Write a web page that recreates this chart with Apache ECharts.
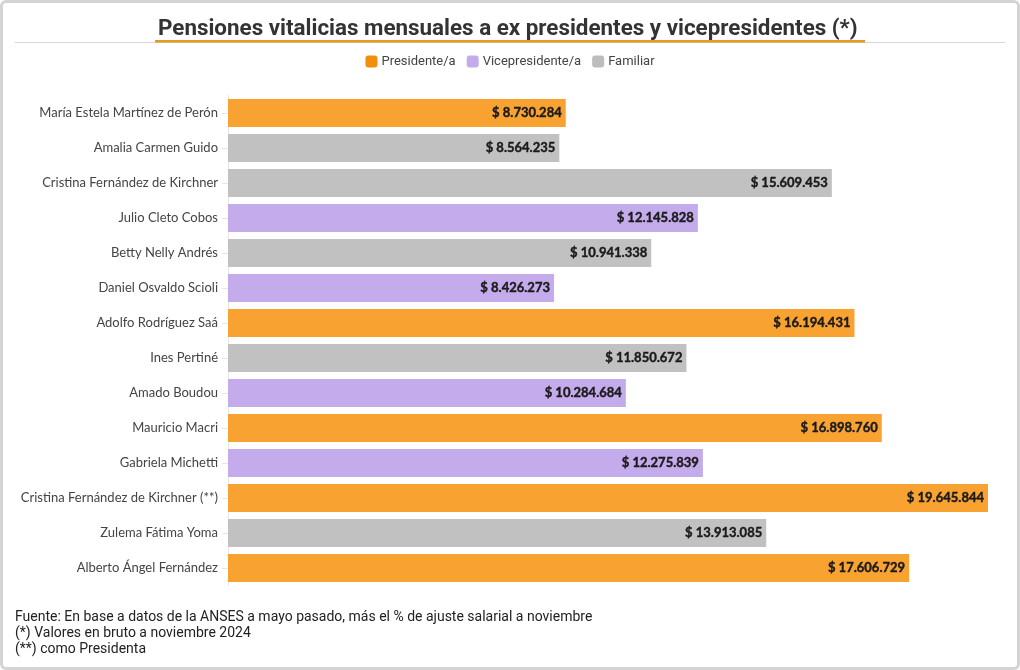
<!DOCTYPE html>
<html><head><meta charset="utf-8">
<script src="https://cdn.jsdelivr.net/npm/echarts@6/dist/echarts.min.js"></script>
<style>
html,body{margin:0;padding:0;background:#fff;}
#c{position:absolute;left:0;top:0;width:1020px;height:670px;}
#b{position:absolute;left:0;top:0;width:1020px;height:670px;box-sizing:border-box;border:3px solid #d4d4d4;border-radius:6px;pointer-events:none;}
</style></head>
<body><div id="c"></div><div id="b"></div>
<script>
const categories = ["María Estela Martínez de Perón","Amalia Carmen Guido","Cristina Fernández de Kirchner","Julio Cleto Cobos","Betty Nelly Andrés","Daniel Osvaldo Scioli","Adolfo Rodríguez Saá","Ines Pertiné","Amado Boudou","Mauricio Macri","Gabriela Michetti","Cristina Fernández de Kirchner (**)","Zulema Fátima Yoma","Alberto Ángel Fernández"];
const roles = ["Presidente/a","Familiar","Familiar","Vicepresidente/a","Familiar","Vicepresidente/a","Presidente/a","Familiar","Vicepresidente/a","Presidente/a","Vicepresidente/a","Presidente/a","Familiar","Presidente/a"];
const values = [8730284,8564235,15609453,12145828,10941338,8426273,16194431,11850672,10284684,16898760,12275839,19645844,13913085,17606729];
const seriesNames = ["Presidente/a","Vicepresidente/a","Familiar"];
const seriesColors = ["#F8A232","#C4ABEB","#C1C1C1"];
const legendColors = ["#F28E0B","#C4ABEB","#BDBDBD"];
const footnotes = ["Fuente: En base a datos de la ANSES a mayo pasado, más el % de ajuste salarial a noviembre","(*) Valores en bruto a noviembre 2024","(**) como Presidenta"];

function fmt(v){return "$ " + String(v).replace(/\B(?=(\d{3})+(?!\d))/g, ".");}

const chart = echarts.init(document.getElementById('c'));
const series = seriesNames.map((n,i)=>({
  name:n, type:'bar', stack:'s', barWidth:28,
  itemStyle:{color:seriesColors[i]},
  data: values.map((v,k)=> roles[k]===n ? v : '-'),
  label:{show:true, position:'insideRight', distance:4, formatter:p=>fmt(p.value),
    fontFamily:'Lato', fontWeight:'bold', fontSize:13, color:'#1a1a1a',
    textBorderColor:'#1a1a1a', textBorderWidth:0.4}
}));
chart.setOption({
  animation:false,
  title:{text:"Pensiones vitalicias mensuales a ex presidentes y vicepresidentes (*)", left:153, top:13,
    textStyle:{fontFamily:'Roboto', fontWeight:'bold', fontSize:22.4, color:'#333'}},
  legend:{top:50, left:'center', itemWidth:12, itemHeight:12, itemGap:11,
    icon:'roundRect',
    textStyle:{fontFamily:'Roboto', fontSize:13, color:'#444', padding:[0,0,0,-1]},
    data: seriesNames.map((n,i)=>({name:n, itemStyle:{color:legendColors[i]}}))},
  grid:{left:228, right:32, top:95.5, bottom:84.5, containLabel:false},
  xAxis:{type:'value', min:0, max:19645844, show:false},
  yAxis:{type:'category', data:categories, inverse:true,
    axisLine:{show:true, lineStyle:{color:'#e6e6e6'}},
    axisTick:{show:true, length:6, alignWithLabel:true, lineStyle:{color:'#e6e6e6'}},
    axisLabel:{fontFamily:'Lato', fontSize:13, color:'#444', margin:10}},
  graphic:[
    {type:'rect', shape:{x:15,y:42,width:990,height:1}, style:{fill:'#d6d6d6'}},
    {type:'rect', shape:{x:155,y:40,width:710,height:2.5}, style:{fill:'#E39A1E'}},
    {type:'text', left:15, top:609, style:{text:footnotes.join('\n'), fontFamily:'Roboto', fontSize:14, lineHeight:16, fill:'#222'}}
  ],
  series
});
</script></body></html>
